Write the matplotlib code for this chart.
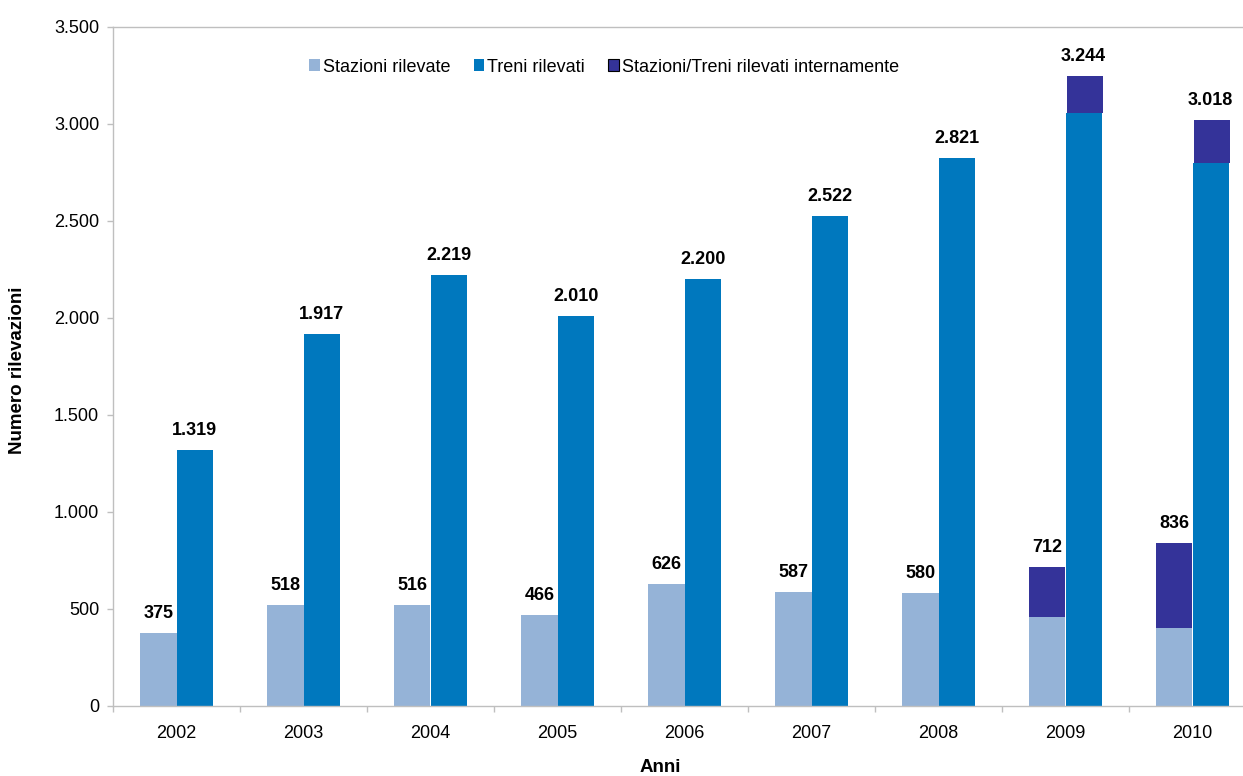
import matplotlib
matplotlib.use("Agg")
import matplotlib.pyplot as plt
from matplotlib.patches import Patch
from matplotlib.ticker import FuncFormatter
import numpy as np

plt.rcParams['font.family'] = ['Liberation Sans', 'DejaVu Sans']

anni = ['2002', '2003', '2004', '2005', '2006', '2007', '2008', '2009', '2010']
stazioni_tot = [375, 518, 516, 466, 626, 587, 580, 712, 836]
treni_tot = [1319, 1917, 2219, 2010, 2200, 2522, 2821, 3244, 3018]
# quota rilevata internamente (solo 2009 e 2010)
stazioni_int = [0, 0, 0, 0, 0, 0, 0, 254, 435]
treni_int = [0, 0, 0, 0, 0, 0, 0, 187, 221]

c_staz = '#95B3D7'
c_treni = '#0078BE'
c_int = '#343399'
c_axis = '#BFBFBF'

fig = plt.figure(figsize=(12.43, 7.76), dpi=100)
ax = fig.add_axes([113 / 1243, 70.5 / 776, 1143 / 1243, 678.8 / 776])

x = np.arange(len(anni))
w = 0.285
staz_base = np.array(stazioni_tot) - np.array(stazioni_int)
treni_base = np.array(treni_tot) - np.array(treni_int)

ax.bar(x - w / 2, staz_base, w, color=c_staz, linewidth=0)
ax.bar(x + w / 2, treni_base, w, color=c_treni, linewidth=0)
ax.bar(x - w / 2, stazioni_int, w, bottom=staz_base, color=c_int, linewidth=0)
ax.bar(x + w / 2 + 0.01, treni_int, w, bottom=treni_base, color=c_int, linewidth=0)

def fmt(v):
    return f"{v:,}".replace(',', '.')

for i in range(len(anni)):
    ax.annotate(fmt(stazioni_tot[i]), (x[i] - w / 2, stazioni_tot[i]),
                xytext=(0, 8), textcoords='offset points', ha='center', va='bottom',
                fontsize=13, fontweight='bold')
    ax.annotate(fmt(treni_tot[i]), (x[i] + w / 2, treni_tot[i]),
                xytext=(0, 8), textcoords='offset points', ha='center', va='bottom',
                fontsize=13, fontweight='bold')

ax.set_xlim(-0.5, len(anni) - 0.5)
ax.set_ylim(0, 3500)
ax.set_yticks(np.arange(0, 3501, 500))
ax.yaxis.set_major_formatter(FuncFormatter(lambda v, p: fmt(int(v))))
ax.set_xticks(x)
ax.set_xticklabels(anni)
ax.set_xticks(np.arange(-0.5, len(anni), 1), minor=True)
ax.tick_params(axis='x', which='major', length=0, pad=14, labelsize=13)
ax.tick_params(axis='x', which='minor', length=4, color=c_axis, width=1)
ax.tick_params(axis='y', length=4, color=c_axis, width=1, pad=6, labelsize=13)

for s in ['left', 'bottom', 'top']:
    ax.spines[s].set_color(c_axis)
    ax.spines[s].set_linewidth(1)
ax.spines['right'].set_visible(False)

fig.text(18 / 1243, 1 - 370 / 776, 'Numero rilevazioni', rotation=90,
         ha='center', va='center', fontsize=13.5, fontweight='bold')
fig.text(660 / 1243, 1 - 768 / 776, 'Anni', ha='center', va='center',
         fontsize=13.5, fontweight='bold')

handles = [Patch(facecolor=c_staz, edgecolor='none'),
           Patch(facecolor=c_treni, edgecolor='none'),
           Patch(facecolor=c_int, edgecolor='black', linewidth=0.8)]
labels = ['Stazioni rilevate', 'Treni rilevati', 'Stazioni/Treni rilevati internamente']
ax.legend(handles, labels, ncol=3, frameon=False, loc='center',
          bbox_to_anchor=(604 / 1243, 1 - 67 / 776), bbox_transform=fig.transFigure,
          fontsize=13, handlelength=0.6, handleheight=0.6, handletextpad=0.15,
          columnspacing=1.3)

fig.savefig('out.png', dpi=100)
